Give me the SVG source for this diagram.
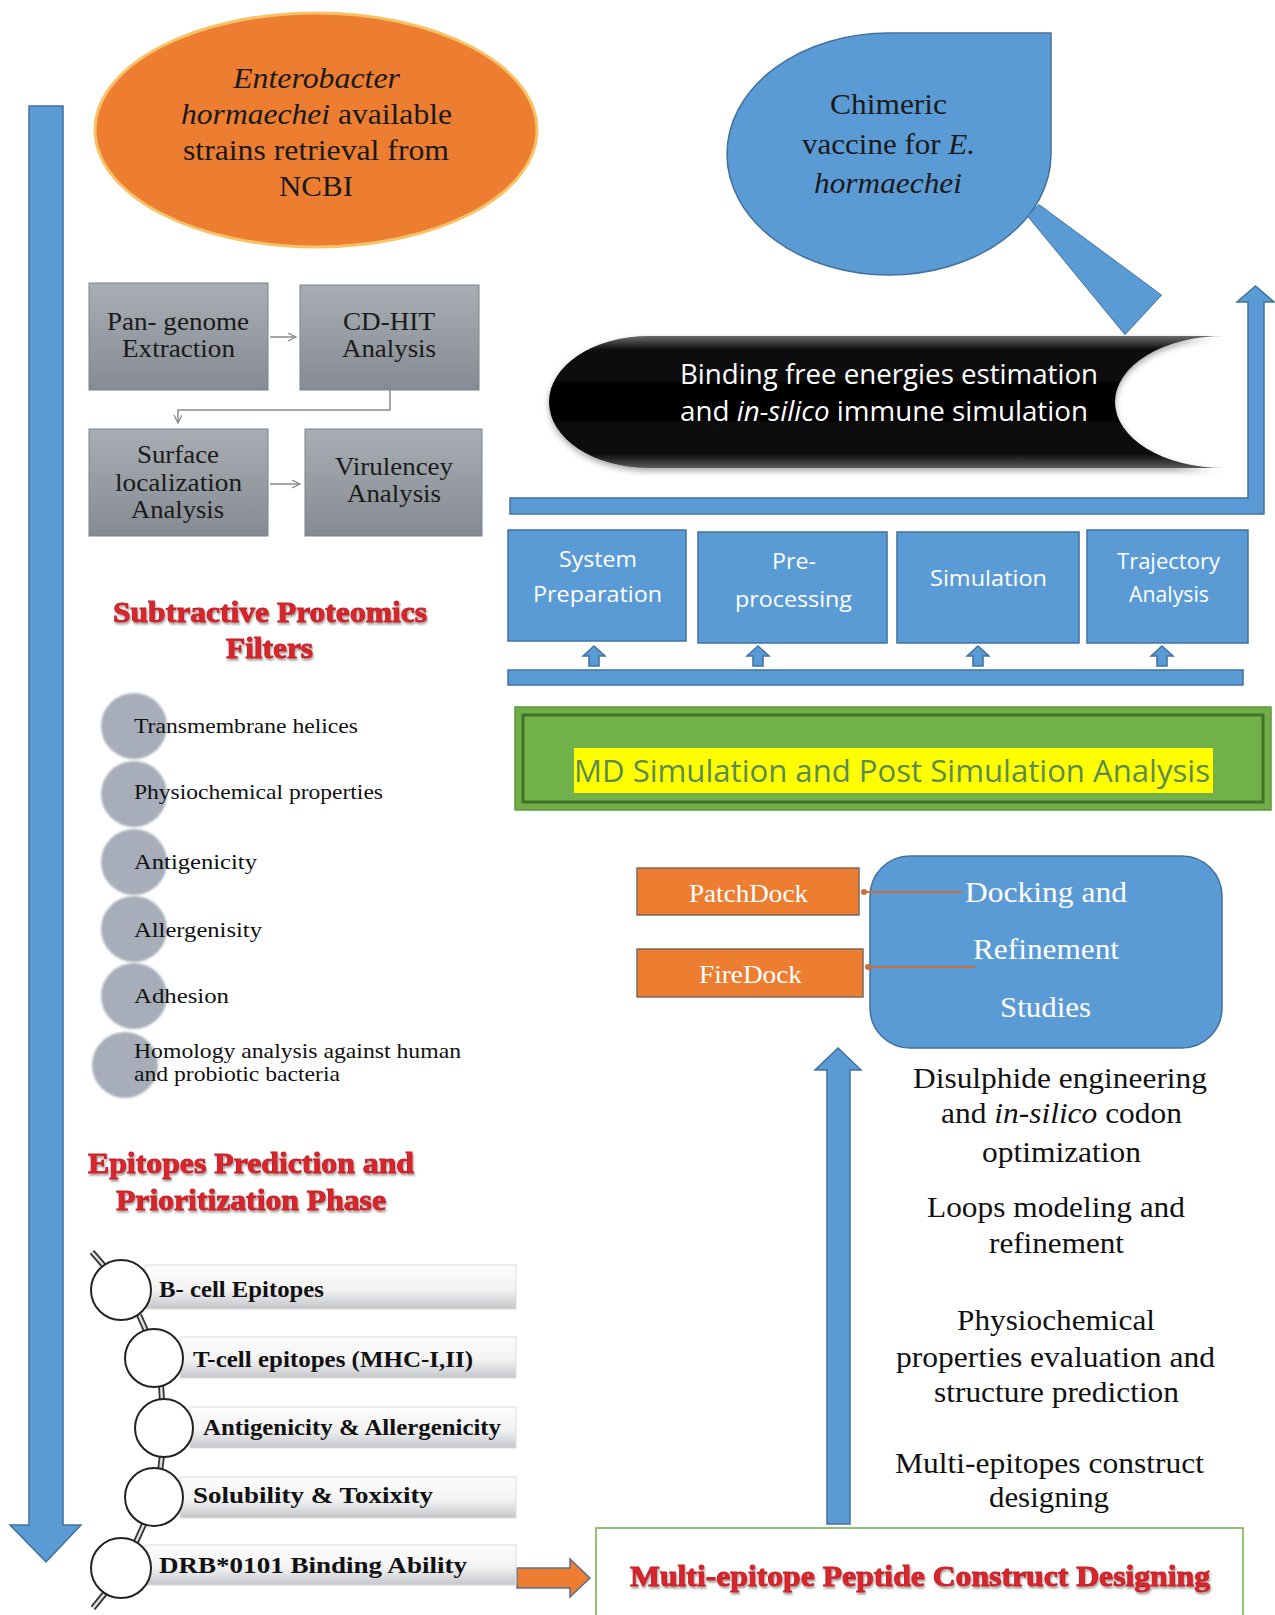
<svg xmlns="http://www.w3.org/2000/svg" width="1275" height="1615" viewBox="0 0 1275 1615">
<defs>
<style>
.serif{font-family:"Liberation Serif","Times New Roman",serif;}
.sans{font-family:"Open Sans","Liberation Sans",sans-serif;}
.blue{fill:#5b9bd5;stroke:#41719c;stroke-width:1.5;}
.gbox{fill:url(#gGray);stroke:#7d828a;stroke-width:1;}
.gtxt{font-family:"Liberation Serif",serif;font-size:25px;fill:#1a1a1a;text-anchor:start;}
.mdtxt{font-family:"Open Sans","Liberation Sans",sans-serif;font-size:22px;fill:#ffffff;}
.ftxt{font-family:"Liberation Serif",serif;font-size:22px;fill:#111;}
.etxt{font-family:"Liberation Serif",serif;font-size:23px;font-weight:bold;fill:#111;}
.rtxt{font-family:"Liberation Serif",serif;font-size:29px;fill:#111;}
.head{font-family:"Liberation Serif",serif;font-size:30px;font-weight:bold;fill:#d9262c;stroke:#c41f26;stroke-width:0.9;filter:url(#shadow);}
.fcirc{fill:#a7aeb9;filter:url(#soft);}
.ecirc{fill:#ffffff;stroke:#222;stroke-width:2;}
.bar{fill:url(#gBar);stroke:#dcdcdc;stroke-width:1;}
.linkO{stroke:#333;stroke-width:6;stroke-linecap:butt;}
.linkI{stroke:#dddddd;stroke-width:2.5;}
.conn{fill:none;stroke:#8a8a8a;stroke-width:1.5;}
.oconn{fill:none;stroke:#c8703c;stroke-width:2;}
.obox{fill:#ed7d31;stroke:#7a6a60;stroke-width:1.5;}
.otxt{font-family:"Liberation Serif",serif;font-size:26px;fill:#ffffff;}
</style>
<linearGradient id="gGray" x1="0" y1="0" x2="0" y2="1">
<stop offset="0" stop-color="#a9adb4"/>
<stop offset="1" stop-color="#868b93"/>
</linearGradient>
<linearGradient id="gBar" x1="0" y1="0" x2="0" y2="1">
<stop offset="0" stop-color="#fdfdfd"/>
<stop offset="0.55" stop-color="#f3f3f4"/>
<stop offset="1" stop-color="#c4c6ca"/>
</linearGradient>
<linearGradient id="gBlack" x1="0" y1="0" x2="0" y2="1">
<stop offset="0" stop-color="#6a6a6a"/>
<stop offset="0.1" stop-color="#111"/>
<stop offset="0.5" stop-color="#000"/>
<stop offset="0.9" stop-color="#111"/>
<stop offset="1" stop-color="#5a5a5a"/>
</linearGradient>
<filter id="shadow" x="-5%" y="-20%" width="110%" height="150%">
<feDropShadow dx="1" dy="2" stdDeviation="1" flood-color="#000" flood-opacity="0.4"/>
</filter>
<filter id="soft" x="-10%" y="-10%" width="120%" height="120%">
<feGaussianBlur stdDeviation="0.8"/>
</filter>
<filter id="blk" x="-5%" y="-10%" width="110%" height="130%">
<feDropShadow dx="0" dy="3" stdDeviation="3" flood-color="#000" flood-opacity="0.35"/>
</filter>
<marker id="open" markerWidth="10" markerHeight="10" refX="8" refY="4" orient="auto" markerUnits="userSpaceOnUse">
<path d="M0,0 L8,4 L0,8" fill="none" stroke="#8a8a8a" stroke-width="1.3"/>
</marker>
<marker id="dot" markerWidth="8" markerHeight="8" refX="4" refY="4" orient="auto" markerUnits="userSpaceOnUse">
<circle cx="4" cy="4" r="3" fill="#c8703c"/>
</marker>
</defs>
<rect width="1275" height="1615" fill="#ffffff"/>

<!-- Connectors -->
<g id="connectors">
<path class="blue" d="M29,106 H63 V1525 H81 L46,1562 L10,1525 H29 Z"/>
<path class="blue" d="M510,498 H1248 V302 H1237 L1255.5,286 L1274,302 H1264 V514 H510 Z"/>
<rect class="blue" x="508" y="670" width="735" height="15"/>
<path class="blue" d="M589,666 V656 H583 L594,646 L605,656 H599 V666 Z"/>
<path class="blue" d="M753,666 V656 H747 L758,646 L769,656 H763 V666 Z"/>
<path class="blue" d="M973,666 V656 H967 L978,646 L989,656 H983 V666 Z"/>
<path class="blue" d="M1157,666 V656 H1151 L1162,646 L1173,656 H1167 V666 Z"/>
<path class="blue" d="M827,1524 V1070 H815 L838,1048 L861,1070 H850 V1524 Z"/>
<path d="M517,1568 H570 V1559 L590,1578 L570,1597 V1588 H517 Z" fill="#ed7d31" stroke="#5a6f8c" stroke-width="1.5"/>
<line class="conn" x1="270" y1="337" x2="296" y2="337" marker-end="url(#open)"/>
<line class="conn" x1="270" y1="484" x2="300" y2="484" marker-end="url(#open)"/>
<polyline class="conn" points="390,390 390,410 178,410 178,423" marker-end="url(#open)"/>
</g>

<!-- Orange start ellipse -->
<g id="node-start">
<ellipse cx="316" cy="130" rx="221" ry="117" fill="#ed7d31" stroke="#f7c266" stroke-width="3"/>
<text class="serif" font-size="29" fill="#1a1a1a" x="233" y="88" textLength="167" lengthAdjust="spacingAndGlyphs" font-style="italic">Enterobacter</text>
<text class="serif" font-size="29" fill="#1a1a1a" x="181" y="124" textLength="271" lengthAdjust="spacingAndGlyphs"><tspan font-style="italic">hormaechei</tspan> available</text>
<text class="serif" font-size="29" fill="#1a1a1a" x="183" y="160" textLength="266" lengthAdjust="spacingAndGlyphs">strains retrieval from</text>
<text class="serif" font-size="29" fill="#1a1a1a" x="279" y="196" textLength="74" lengthAdjust="spacingAndGlyphs">NCBI</text>
</g>

<g id="node-pangenome">
<rect class="gbox" x="89" y="283" width="179" height="107"/>
<text class="gtxt" x="107" y="330" textLength="142" lengthAdjust="spacingAndGlyphs">Pan- genome</text>
<text class="gtxt" x="122" y="357" textLength="113" lengthAdjust="spacingAndGlyphs">Extraction</text>
</g>
<g id="node-cdhit">
<rect class="gbox" x="300" y="285" width="179" height="105"/>
<text class="gtxt" x="343" y="330" textLength="92" lengthAdjust="spacingAndGlyphs">CD-HIT</text>
<text class="gtxt" x="342" y="357" textLength="94" lengthAdjust="spacingAndGlyphs">Analysis</text>
</g>
<g id="node-surface">
<rect class="gbox" x="89" y="429" width="179" height="107"/>
<text class="gtxt" x="137" y="463" textLength="82" lengthAdjust="spacingAndGlyphs">Surface</text>
<text class="gtxt" x="115" y="491" textLength="127" lengthAdjust="spacingAndGlyphs">localization</text>
<text class="gtxt" x="131" y="518" textLength="93" lengthAdjust="spacingAndGlyphs">Analysis</text>
</g>
<g id="node-virulence">
<rect class="gbox" x="305" y="429" width="177" height="107"/>
<text class="gtxt" x="335" y="475" textLength="118" lengthAdjust="spacingAndGlyphs">Virulencey</text>
<text class="gtxt" x="347" y="502" textLength="94" lengthAdjust="spacingAndGlyphs">Analysis</text>
</g>

<!-- Subtractive proteomics -->
<g id="node-subtractive">
<text class="head" x="113" y="622" textLength="314" lengthAdjust="spacingAndGlyphs">Subtractive Proteomics</text>
<text class="head" x="226" y="658" textLength="87" lengthAdjust="spacingAndGlyphs">Filters</text>
</g>
<g id="node-filters">
<circle class="fcirc" cx="134" cy="726" r="33"/>
<circle class="fcirc" cx="134" cy="794" r="33"/>
<circle class="fcirc" cx="134" cy="862" r="33"/>
<circle class="fcirc" cx="134" cy="929" r="33"/>
<circle class="fcirc" cx="134" cy="996" r="33"/>
<circle class="fcirc" cx="125" cy="1065" r="33"/>
<text class="ftxt" x="134" y="733" textLength="224" lengthAdjust="spacingAndGlyphs">Transmembrane helices</text>
<text class="ftxt" x="134" y="799" textLength="249" lengthAdjust="spacingAndGlyphs">Physiochemical properties</text>
<text class="ftxt" x="134" y="869" textLength="123" lengthAdjust="spacingAndGlyphs">Antigenicity</text>
<text class="ftxt" x="134" y="937" textLength="128" lengthAdjust="spacingAndGlyphs">Allergenisity</text>
<text class="ftxt" x="134" y="1003" textLength="95" lengthAdjust="spacingAndGlyphs">Adhesion</text>
<text class="ftxt" x="134" y="1058" textLength="327" lengthAdjust="spacingAndGlyphs">Homology analysis against human</text>
<text class="ftxt" x="134" y="1081" textLength="206" lengthAdjust="spacingAndGlyphs">and probiotic bacteria</text>
</g>

<!-- Epitopes -->
<g id="node-epitopes-head">
<text class="head" x="88" y="1173" textLength="326" lengthAdjust="spacingAndGlyphs">Epitopes Prediction and</text>
<text class="head" x="116" y="1210" textLength="270" lengthAdjust="spacingAndGlyphs">Prioritization Phase</text>
</g>
<g id="node-epitope-chain">
<rect class="bar" x="145" y="1265" width="371" height="44"/>
<rect class="bar" x="180" y="1337" width="336" height="41"/>
<rect class="bar" x="190" y="1407" width="326" height="41"/>
<rect class="bar" x="180" y="1477" width="336" height="41"/>
<rect class="bar" x="145" y="1545" width="371" height="40"/>
<line class="linkO" x1="92" y1="1252" x2="105" y2="1267"/><line class="linkI" x1="92" y1="1252" x2="105" y2="1267"/>
<line class="linkO" x1="139" y1="1315" x2="147" y2="1333"/><line class="linkI" x1="139" y1="1315" x2="147" y2="1333"/>
<line class="linkO" x1="161" y1="1384" x2="162" y2="1401"/><line class="linkI" x1="161" y1="1384" x2="162" y2="1401"/>
<line class="linkO" x1="162" y1="1455" x2="160" y2="1472"/><line class="linkI" x1="162" y1="1455" x2="160" y2="1472"/>
<line class="linkO" x1="145" y1="1522" x2="136" y2="1542"/><line class="linkI" x1="145" y1="1522" x2="136" y2="1542"/>
<line class="linkO" x1="106" y1="1592" x2="93" y2="1608"/><line class="linkI" x1="106" y1="1592" x2="93" y2="1608"/>
<circle class="ecirc" cx="121" cy="1290" r="30"/>
<circle class="ecirc" cx="154" cy="1358" r="29"/>
<circle class="ecirc" cx="164" cy="1428" r="29"/>
<circle class="ecirc" cx="154" cy="1497" r="29"/>
<circle class="ecirc" cx="121" cy="1568" r="30"/>
<text class="etxt" x="159" y="1297" textLength="165" lengthAdjust="spacingAndGlyphs">B- cell Epitopes</text>
<text class="etxt" x="193" y="1367" textLength="280" lengthAdjust="spacingAndGlyphs">T-cell epitopes (MHC-I,II)</text>
<text class="etxt" x="203" y="1435" textLength="298" lengthAdjust="spacingAndGlyphs">Antigenicity &amp; Allergenicity</text>
<text class="etxt" x="193" y="1503" textLength="240" lengthAdjust="spacingAndGlyphs">Solubility &amp; Toxixity</text>
<text class="etxt" x="159" y="1573" textLength="308" lengthAdjust="spacingAndGlyphs">DRB*0101 Binding Ability</text>
</g>

<!-- Multi-epitope construct -->
<g id="node-construct">
<rect x="596" y="1528" width="647" height="100" fill="#ffffff" stroke="#70ad47" stroke-width="1.5"/>
<text class="head" x="630" y="1586" textLength="580" lengthAdjust="spacingAndGlyphs">Multi-epitope Peptide Construct Designing</text>
</g>

<g id="node-steps">
<text class="rtxt" x="913" y="1088" textLength="294" lengthAdjust="spacingAndGlyphs">Disulphide engineering</text>
<text class="rtxt" x="941" y="1123" textLength="241" lengthAdjust="spacingAndGlyphs">and <tspan font-style="italic">in-silico</tspan> codon</text>
<text class="rtxt" x="982" y="1162" textLength="159" lengthAdjust="spacingAndGlyphs">optimization</text>
<text class="rtxt" x="927" y="1217" textLength="258" lengthAdjust="spacingAndGlyphs">Loops modeling and</text>
<text class="rtxt" x="989" y="1253" textLength="135" lengthAdjust="spacingAndGlyphs">refinement</text>
<text class="rtxt" x="957" y="1330" textLength="198" lengthAdjust="spacingAndGlyphs">Physiochemical</text>
<text class="rtxt" x="896" y="1367" textLength="319" lengthAdjust="spacingAndGlyphs">properties evaluation and</text>
<text class="rtxt" x="934" y="1402" textLength="245" lengthAdjust="spacingAndGlyphs">structure prediction</text>
<text class="rtxt" x="895" y="1473" textLength="309" lengthAdjust="spacingAndGlyphs">Multi-epitopes construct</text>
<text class="rtxt" x="989" y="1507" textLength="120" lengthAdjust="spacingAndGlyphs">designing</text>
</g>

<!-- Docking -->
<g id="node-docking">
<rect x="870" y="856" width="352" height="192" rx="40" ry="40" class="blue"/>
<text class="serif" font-size="29" fill="#fff" x="965" y="902" textLength="162" lengthAdjust="spacingAndGlyphs">Docking and</text>
<text class="serif" font-size="29" fill="#fff" x="973" y="959" textLength="146" lengthAdjust="spacingAndGlyphs">Refinement</text>
<text class="serif" font-size="29" fill="#fff" x="1000" y="1017" textLength="91" lengthAdjust="spacingAndGlyphs">Studies</text>
</g>
<g id="node-patchdock">
<rect class="obox" x="637" y="868" width="222" height="47"/>
<text class="otxt" x="689" y="902" textLength="119" lengthAdjust="spacingAndGlyphs">PatchDock</text>
</g>
<g id="node-firedock">
<rect class="obox" x="637" y="949" width="226" height="48"/>
<text class="otxt" x="699" y="983" textLength="103" lengthAdjust="spacingAndGlyphs">FireDock</text>
</g>
<g id="connectors-docking">
<line class="oconn" x1="962" y1="892" x2="864" y2="892" marker-end="url(#dot)"/>
<line class="oconn" x1="975" y1="967" x2="868" y2="967" marker-end="url(#dot)"/>
</g>

<!-- MD simulation -->
<g id="node-md">
<rect x="515" y="707" width="756" height="103" fill="#70ad47" stroke="#5b9a3a" stroke-width="1.5"/>
<rect x="523" y="715" width="740" height="87" fill="#72b04a" stroke="#3f7428" stroke-width="3"/>
<rect x="574" y="748" width="639" height="45" fill="#ffff00"/>
<text class="sans" font-size="31" fill="#5b8b52" x="574" y="782" textLength="636" lengthAdjust="spacingAndGlyphs">MD Simulation and Post Simulation Analysis</text>
</g>
<g id="node-sysprep">
<rect class="blue" x="508" y="530" width="178" height="111"/>
<text class="mdtxt" x="559" y="567" textLength="78" lengthAdjust="spacingAndGlyphs">System</text>
<text class="mdtxt" x="533" y="602" textLength="129" lengthAdjust="spacingAndGlyphs">Preparation</text>
</g>
<g id="node-preproc">
<rect class="blue" x="698" y="532" width="189" height="111"/>
<text class="mdtxt" x="772" y="569" textLength="44" lengthAdjust="spacingAndGlyphs">Pre-</text>
<text class="mdtxt" x="735" y="607" textLength="117" lengthAdjust="spacingAndGlyphs">processing</text>
</g>
<g id="node-sim">
<rect class="blue" x="897" y="532" width="182" height="111"/>
<text class="mdtxt" x="930" y="586" textLength="117" lengthAdjust="spacingAndGlyphs">Simulation</text>
</g>
<g id="node-traj">
<rect class="blue" x="1087" y="530" width="161" height="113"/>
<text class="mdtxt" font-size="20" x="1117" y="569" textLength="103" lengthAdjust="spacingAndGlyphs">Trajectory</text>
<text class="mdtxt" font-size="20" x="1129" y="602" textLength="80" lengthAdjust="spacingAndGlyphs">Analysis</text>
</g>

<!-- Binding free energies -->
<g id="node-binding">
<path d="M649,336 L1224,336 A109,66 0 0 0 1224,468 L649,468 A100,66 0 0 1 649,336 Z" fill="url(#gBlack)" filter="url(#blk)"/>
<text class="sans" font-size="28" fill="#ffffff" x="680" y="384" textLength="418" lengthAdjust="spacingAndGlyphs">Binding free energies estimation</text>
<text class="sans" font-size="28" fill="#ffffff" x="680" y="421" textLength="408" lengthAdjust="spacingAndGlyphs">and <tspan font-style="italic">in-silico</tspan> immune simulation</text>
</g>

<!-- Chimeric vaccine -->
<g id="node-vaccine">
<polygon points="1028,216 1039,205 1161,295 1125,334" fill="#5b9bd5" stroke="#41719c" stroke-width="1.5"/>
<path d="M889,33 L1051,33 L1051,154 A162,121 0 0 1 889,275 A162,121 0 0 1 727,154 A162,121 0 0 1 889,33 Z" fill="#5b9bd5" stroke="#41719c" stroke-width="1.5"/>
<polygon points="1028,216 1039,205 1161,295 1125,334" fill="#5b9bd5"/>
<text class="serif" font-size="29" fill="#1a1a1a" x="830" y="114" textLength="117" lengthAdjust="spacingAndGlyphs">Chimeric</text>
<text class="serif" font-size="29" fill="#1a1a1a" x="802" y="154" textLength="173" lengthAdjust="spacingAndGlyphs">vaccine for <tspan font-style="italic">E.</tspan></text>
<text class="serif" font-size="29" fill="#1a1a1a" x="814" y="193" textLength="148" lengthAdjust="spacingAndGlyphs" font-style="italic">hormaechei</text>
</g>
</svg>
